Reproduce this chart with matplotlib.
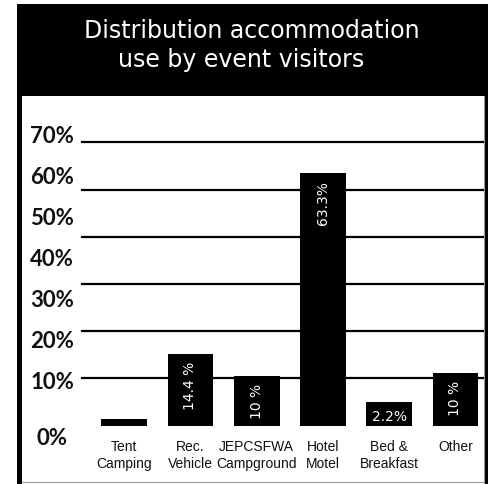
import matplotlib
matplotlib.use("Agg")
import matplotlib.pyplot as plt
from matplotlib.patches import Rectangle
from matplotlib.lines import Line2D
from matplotlib.transforms import blended_transform_factory, offset_copy

# ---------------- data ----------------
categories = ["Tent\nCamping", "Rec.\nVehicle", "JEPCSFWA\nCampground",
              "Hotel\nMotel", "Bed &\nBreakfast", "Other"]
# bar heights as drawn in the picture (in grid-line units)
drawn_heights = [1.4, 15.2, 10.5, 53.5, 5.0, 11.2]
# values printed on the bars
value_labels = ["", "14.4 %", "10 %", "63.3%", "2.2%", "10 %"]
grid_values = [10, 20, 30, 40, 50, 60]
tick_values = [0, 10, 20, 30, 40, 50, 60, 70]
tick_labels = ["0%", "10%", "20%", "30%", "40%", "50%", "60%", "70%"]
title_lines = ["Distribution accommodation", "use by event visitors"]

# ---------------- layout ----------------
W, H = 489, 484
fig = plt.figure(figsize=(W / 100, H / 100), dpi=100)
fig.patch.set_facecolor("white")


def fx(x):
    return x / W


def fy(y):
    return 1 - y / H


# black frame / header and white plotting panel
fig.patches.append(Rectangle((fx(17), fy(484)), (489 - 17) / W, (484 - 4) / H,
                             transform=fig.transFigure, facecolor="black",
                             edgecolor="none", zorder=-3))
fig.patches.append(Rectangle((fx(22), fy(484)), (484 - 22) / W, (484 - 96) / H,
                             transform=fig.transFigure, facecolor="white",
                             edgecolor="none", zorder=-2))
fig.add_artist(Line2D([fx(22), fx(484)], [fy(481.5), fy(481.5)],
                      transform=fig.transFigure, color="#9a9a9a", lw=0.8))
fig.add_artist(Line2D([fx(484.5), fx(484.5)], [fy(96), fy(484)],
                      transform=fig.transFigure, color="#9a9a9a", lw=0.8))

# title
fig.text(fx(252), fy(37.7), title_lines[0], color="white", ha="center",
         va="baseline", fontsize=17, family="DejaVu Sans")
fig.text(fx(241), fy(66.5), title_lines[1], color="white", ha="center",
         va="baseline", fontsize=17, family="DejaVu Sans")

rect = [fx(22), fy(481), (484 - 22) / W, (481 - 96) / H]
ax = fig.add_axes(rect)
ax.set_axis_off()
ax.set_xlim(-1.543, 5.432)
ax.set_ylim(-11.72, 69.85)

x = list(range(len(categories)))

for g in grid_values:
    ax.axhline(g, xmin=0.13, xmax=1.0, color="black", lw=1.6, zorder=1)

ax.bar(x, drawn_heights, width=0.69, color="black", zorder=2)

for xi, h, lab in zip(x, drawn_heights, value_labels):
    if not lab:
        continue
    rot = 90 if h > 8 else 0
    tr = offset_copy(ax.transData, fig=fig, x=0, y=-8, units="dots")
    ax.text(xi, h, lab, rotation=rot, ha="center", va="top", color="white",
            fontsize=10, family="DejaVu Sans", transform=tr, zorder=3)

for xi, cat in zip(x, categories):
    ax.text(xi, -3.0, cat, ha="center", va="top", fontsize=10,
            family="Liberation Sans", linespacing=1.3, color="#111111")

# y tick labels (drawn on their own scale, as in the original)
ax_l = fig.add_axes(rect)
ax_l.set_axis_off()
ax_l.set_xlim(0, 1)
ax_l.set_ylim(-14.46, 79.26)
bt = blended_transform_factory(ax_l.transAxes, ax_l.transData)
for v, lab in zip(tick_values, tick_labels):
    off = -15 if v == 0 else 0
    tr = offset_copy(bt, fig=fig, x=0, y=off, units="dots")
    ax_l.text(0.0649, v, lab, ha="center", va="center_baseline", fontsize=16,
              family="Lato", fontweight="bold", color="#111111", transform=tr)

fig.savefig("out.png", dpi=100)
